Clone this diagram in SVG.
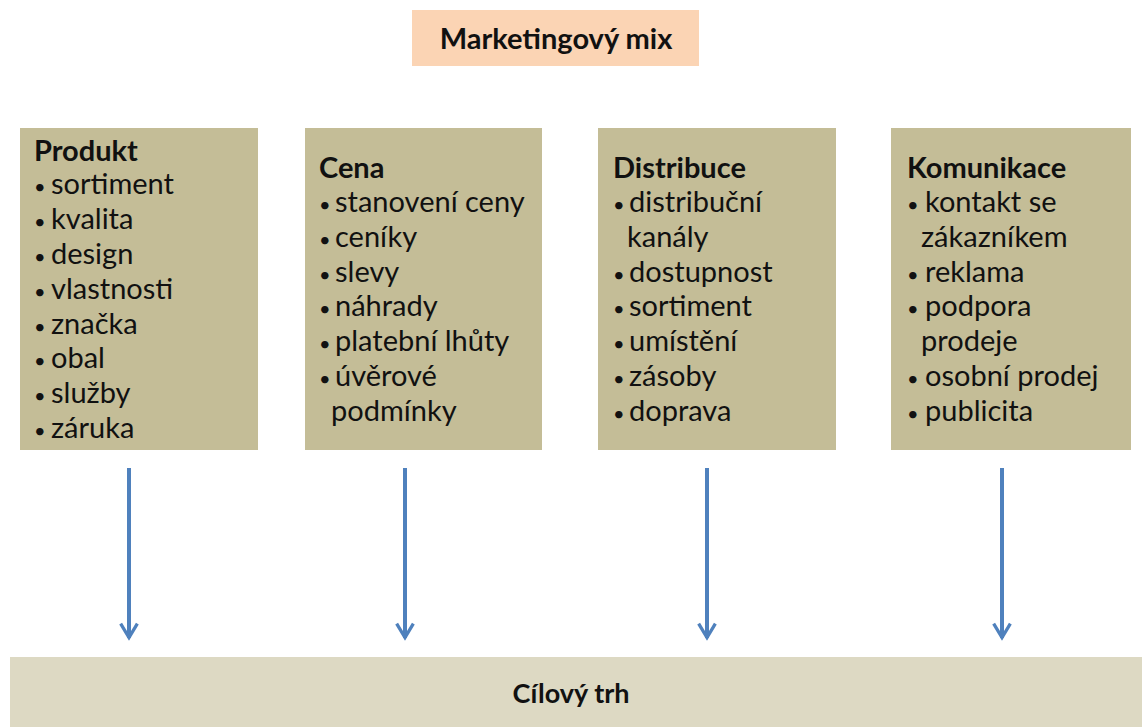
<svg xmlns="http://www.w3.org/2000/svg" width="1142" height="727" viewBox="0 0 1142 727">
<defs>
<style>
.box{fill:#C4BD97;}
.t{font-family:Lato,"Open Sans","Liberation Sans",sans-serif;font-size:29px;fill:#111;}
.b{font-size:20px;}
.h{font-family:Lato,"Open Sans","Liberation Sans",sans-serif;font-size:29px;font-weight:bold;fill:#111;}
.conn{stroke:#4F81BD;stroke-width:4;fill:none;}
</style>
<marker id="ah" viewBox="0 0 10 10" refX="8.5" refY="5" markerWidth="5.5" markerHeight="5.5" orient="auto" markerUnits="strokeWidth">
<path d="M2,1.2 L8.3,5 L2,8.8" fill="none" stroke="#4F81BD" stroke-width="1.5"/>
</marker>
</defs>
<rect width="1142" height="727" fill="#fff"/>
<g id="title">
<rect x="412" y="10" width="287" height="56" fill="#FBD4B4"/>
<text class="h" x="556" y="49" text-anchor="middle">Marketingový mix</text>
</g>
<g id="produkt">
<rect class="box" x="20" y="128" width="238" height="322"/>
<text class="h" x="34" y="161">Produkt</text>
<text class="t" y="194"><tspan class="b" x="34">•</tspan><tspan x="51">sortiment</tspan></text>
<text class="t" y="229"><tspan class="b" x="34">•</tspan><tspan x="51">kvalita</tspan></text>
<text class="t" y="264"><tspan class="b" x="34">•</tspan><tspan x="51">design</tspan></text>
<text class="t" y="299"><tspan class="b" x="34">•</tspan><tspan x="51">vlastnosti</tspan></text>
<text class="t" y="334"><tspan class="b" x="34">•</tspan><tspan x="51">značka</tspan></text>
<text class="t" y="368"><tspan class="b" x="34">•</tspan><tspan x="51">obal</tspan></text>
<text class="t" y="403"><tspan class="b" x="34">•</tspan><tspan x="51">služby</tspan></text>
<text class="t" y="438"><tspan class="b" x="34">•</tspan><tspan x="51">záruka</tspan></text>
</g>
<g id="cena">
<rect class="box" x="305" y="128" width="237" height="322"/>
<text class="h" x="319" y="178">Cena</text>
<text class="t" y="212"><tspan class="b" x="319">•</tspan><tspan x="335">stanovení ceny</tspan></text>
<text class="t" y="247"><tspan class="b" x="319">•</tspan><tspan x="335">ceníky</tspan></text>
<text class="t" y="282"><tspan class="b" x="319">•</tspan><tspan x="335">slevy</tspan></text>
<text class="t" y="316"><tspan class="b" x="319">•</tspan><tspan x="335">náhrady</tspan></text>
<text class="t" y="351"><tspan class="b" x="319">•</tspan><tspan x="335">platební lhůty</tspan></text>
<text class="t" y="386"><tspan class="b" x="319">•</tspan><tspan x="335">úvěrové</tspan></text>
<text class="t" x="331" y="421">podmínky</text>
</g>
<g id="distribuce">
<rect class="box" x="598" y="128" width="238" height="322"/>
<text class="h" x="613" y="178">Distribuce</text>
<text class="t" y="212"><tspan class="b" x="613">•</tspan><tspan x="629">distribuční</tspan></text>
<text class="t" x="627" y="247">kanály</text>
<text class="t" y="282"><tspan class="b" x="613">•</tspan><tspan x="629">dostupnost</tspan></text>
<text class="t" y="316"><tspan class="b" x="613">•</tspan><tspan x="629">sortiment</tspan></text>
<text class="t" y="351"><tspan class="b" x="613">•</tspan><tspan x="629">umístění</tspan></text>
<text class="t" y="386"><tspan class="b" x="613">•</tspan><tspan x="629">zásoby</tspan></text>
<text class="t" y="421"><tspan class="b" x="613">•</tspan><tspan x="629">doprava</tspan></text>
</g>
<g id="komunikace">
<rect class="box" x="891" y="128" width="240" height="322"/>
<text class="h" x="907" y="178">Komunikace</text>
<text class="t" y="212"><tspan class="b" x="907">•</tspan><tspan x="925">kontakt se</tspan></text>
<text class="t" x="921" y="247">zákazníkem</text>
<text class="t" y="282"><tspan class="b" x="907">•</tspan><tspan x="925">reklama</tspan></text>
<text class="t" y="316"><tspan class="b" x="907">•</tspan><tspan x="925">podpora</tspan></text>
<text class="t" x="921" y="351">prodeje</text>
<text class="t" y="386"><tspan class="b" x="907">•</tspan><tspan x="925">osobní prodej</tspan></text>
<text class="t" y="421"><tspan class="b" x="907">•</tspan><tspan x="925">publicita</tspan></text>
</g>
<g id="cilovy-trh">
<rect x="10" y="657" width="1132" height="70" fill="#DDD9C3"/>
<text class="h" x="571" y="703" text-anchor="middle" style="font-size:27px">Cílový trh</text>
</g>
<g id="connectors">
<line class="conn" x1="129" y1="468" x2="129" y2="638" marker-end="url(#ah)"/>
<line class="conn" x1="405" y1="468" x2="405" y2="638" marker-end="url(#ah)"/>
<line class="conn" x1="707" y1="468" x2="707" y2="638" marker-end="url(#ah)"/>
<line class="conn" x1="1002" y1="468" x2="1002" y2="638" marker-end="url(#ah)"/>
</g>
</svg>
